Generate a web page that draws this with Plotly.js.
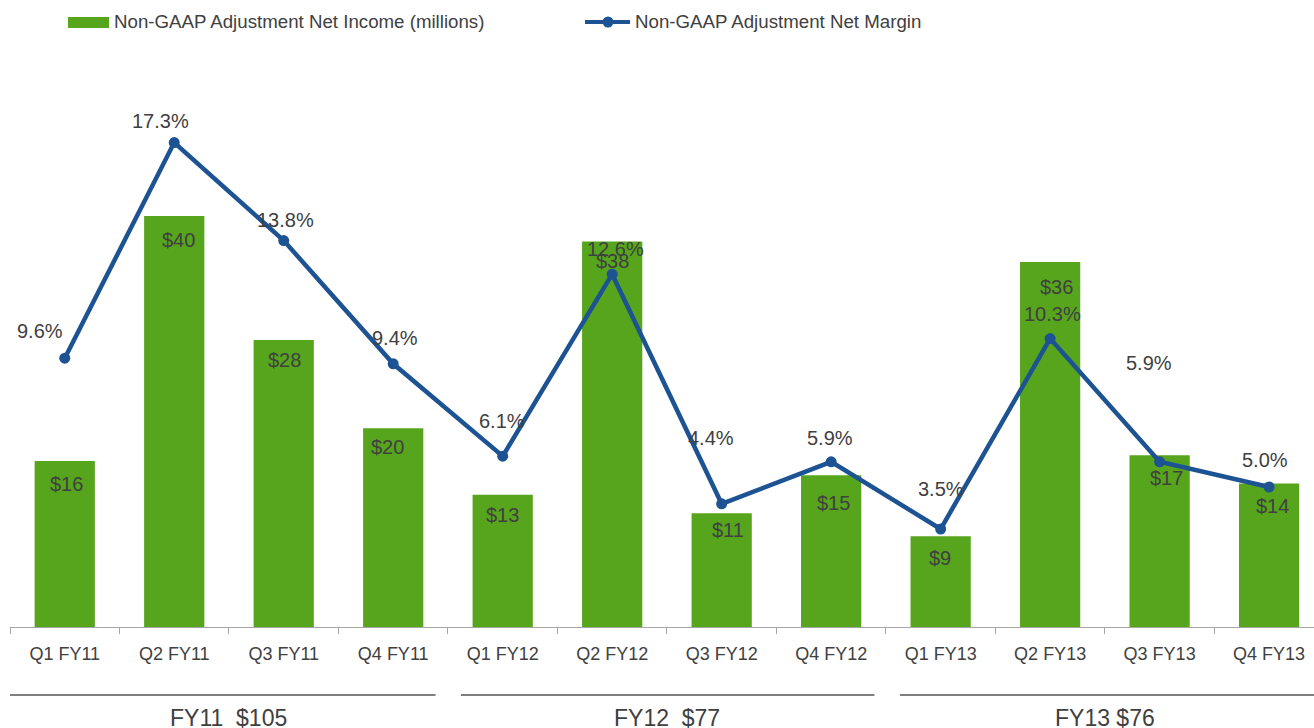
<!DOCTYPE html>
<html>
<head>
<meta charset="utf-8">
<script src="https://cdn.plot.ly/plotly-3.0.1.min.js"></script>
<style>html,body{margin:0;padding:0;background:#fff;}#chart{width:1314px;height:728px;}</style>
</head>
<body>
<div id="chart"></div>
<script>
// ---- data ----
const quarters = ["Q1 FY11","Q2 FY11","Q3 FY11","Q4 FY11","Q1 FY12","Q2 FY12","Q3 FY12","Q4 FY12","Q1 FY13","Q2 FY13","Q3 FY13","Q4 FY13"];
const netIncome = [16.2, 40.1, 28.0, 19.4, 12.9, 37.6, 11.1, 14.8, 8.85, 35.6, 16.75, 14.0];
const incomeLabels = ["$16","$40","$28","$20","$13","$38","$11","$15","$9","$36","$17","$14"];
const netMargin = [9.6, 17.3, 13.8, 9.4, 6.1, 12.6, 4.4, 5.9, 3.5, 10.3, 5.9, 5.0];
const marginLabels = ["9.6%","17.3%","13.8%","9.4%","6.1%","12.6%","4.4%","5.9%","3.5%","10.3%","5.9%","5.0%"];
const fiscalYears = ["FY11\u00a0 $105","FY12\u00a0 $77","FY13 $76"];
const seriesNames = ["Non-GAAP Adjustment Net Income (millions)","Non-GAAP Adjustment Net Margin"];

// ---- label placement (pixels, layout only) ----
const marginLabelShift = [[-25,27],[-14,22],[2,21],[2,26],[-1,35.5],[3,25],[-11,66],[-1,24],[0,40],[2,25],[-10.5,99],[-4,27]];
const incomeLabelShift = [[2,-23],[4,-24.5],[1,-20],[-5.4,-19.3],[0,-20.7],[0,-19],[6,-17],[2.3,-28],[-1,-22],[6,-25],[6.7,-23],[3.3,-22]];
const groupSpan = [[-0.506,3.387],[3.618,7.395],[7.628,11.41]];
const groupCenter = [1.5,5.5,9.5];

const GREEN = "#56a51d", BLUE = "#1d5393", TXT = "#404040", FONT = "Liberation Sans, Arial, sans-serif";
const W = 1314, H = 728, ML = 10, MR = 0, MT = 60, MB = 101;
const PW = W - ML - MR, PH = H - MT - MB;
const px = x => (x - ML) / PW;
const py = y => (H - MB - y) / PH;

const traces = [
  {type:"bar", x:quarters, y:netIncome, name:seriesNames[0], marker:{color:GREEN}, width:0.55, hoverinfo:"skip", showlegend:false},
  {type:"scatter", mode:"lines+markers", x:quarters, y:netMargin, yaxis:"y2", name:seriesNames[1],
   line:{color:BLUE, width:4.5}, marker:{color:BLUE, size:11}, hoverinfo:"skip", showlegend:false}
];

const annotations = [];
quarters.forEach((q,i)=>{
  annotations.push({x:q, y:netIncome[i], xref:"x", yref:"y", text:incomeLabels[i], showarrow:false,
    xanchor:"center", yanchor:"middle", xshift:incomeLabelShift[i][0], yshift:incomeLabelShift[i][1],
    font:{family:FONT, size:20, color:TXT}});
  annotations.push({x:q, y:netMargin[i], xref:"x", yref:"y2", text:marginLabels[i], showarrow:false,
    xanchor:"center", yanchor:"middle", xshift:marginLabelShift[i][0], yshift:marginLabelShift[i][1],
    font:{family:FONT, size:20, color:TXT}});
});
fiscalYears.forEach((t,i)=>{
  annotations.push({x:groupCenter[i], y:py(718), xref:"x", yref:"paper", text:t, showarrow:false,
    xanchor:"center", yanchor:"middle", font:{family:FONT, size:23, color:TXT}});
});
// legend texts
annotations.push({x:px(112), y:py(22), xref:"paper", yref:"paper", text:seriesNames[0], showarrow:false,
  xanchor:"left", yanchor:"middle", font:{family:FONT, size:18.7, color:TXT}});
annotations.push({x:px(633), y:py(22), xref:"paper", yref:"paper", text:seriesNames[1], showarrow:false,
  xanchor:"left", yanchor:"middle", font:{family:FONT, size:18.7, color:TXT}});

const shapes = [];
groupSpan.forEach(s=>{
  shapes.push({type:"line", xref:"x", yref:"paper", x0:s[0], x1:s[1], y0:py(695), y1:py(695),
    line:{color:"#7f7f7f", width:2}});
});
// legend glyphs
shapes.push({type:"rect", xref:"paper", yref:"paper", x0:px(68), x1:px(109), y0:py(28), y1:py(17),
  fillcolor:GREEN, line:{width:0}});
shapes.push({type:"line", xref:"paper", yref:"paper", x0:px(585), x1:px(630), y0:py(22), y1:py(22),
  line:{color:BLUE, width:4}});
shapes.push({type:"circle", xref:"paper", yref:"paper", xsizemode:"pixel", ysizemode:"pixel",
  xanchor:px(608), yanchor:py(22), x0:-5.5, x1:5.5, y0:-5.5, y1:5.5, fillcolor:BLUE, line:{width:0}});

const layout = {
  width:W, height:H, margin:{l:ML, r:MR, t:MT, b:MB, pad:0},
  paper_bgcolor:"#fff", plot_bgcolor:"#fff", showlegend:false,
  font:{family:FONT, color:TXT},
  xaxis:{type:"category", range:[-0.5, 11.41], showgrid:false, zeroline:false, showline:true,
    linecolor:"#a6a6a6", linewidth:1, ticks:"outside", tickson:"boundaries", ticklen:6, tickcolor:"#a6a6a6",
    tickfont:{family:FONT, size:18, color:TXT}, ticklabelstandoff:10, fixedrange:true},
  yaxis:{range:[0, PH/10.25], visible:false, fixedrange:true},
  yaxis2:{range:[0, PH/28.0], overlaying:"y", side:"right", visible:false, fixedrange:true},
  annotations:annotations, shapes:shapes
};
Plotly.newPlot("chart", traces, layout, {displayModeBar:false, staticPlot:true});
</script>
</body>
</html>
